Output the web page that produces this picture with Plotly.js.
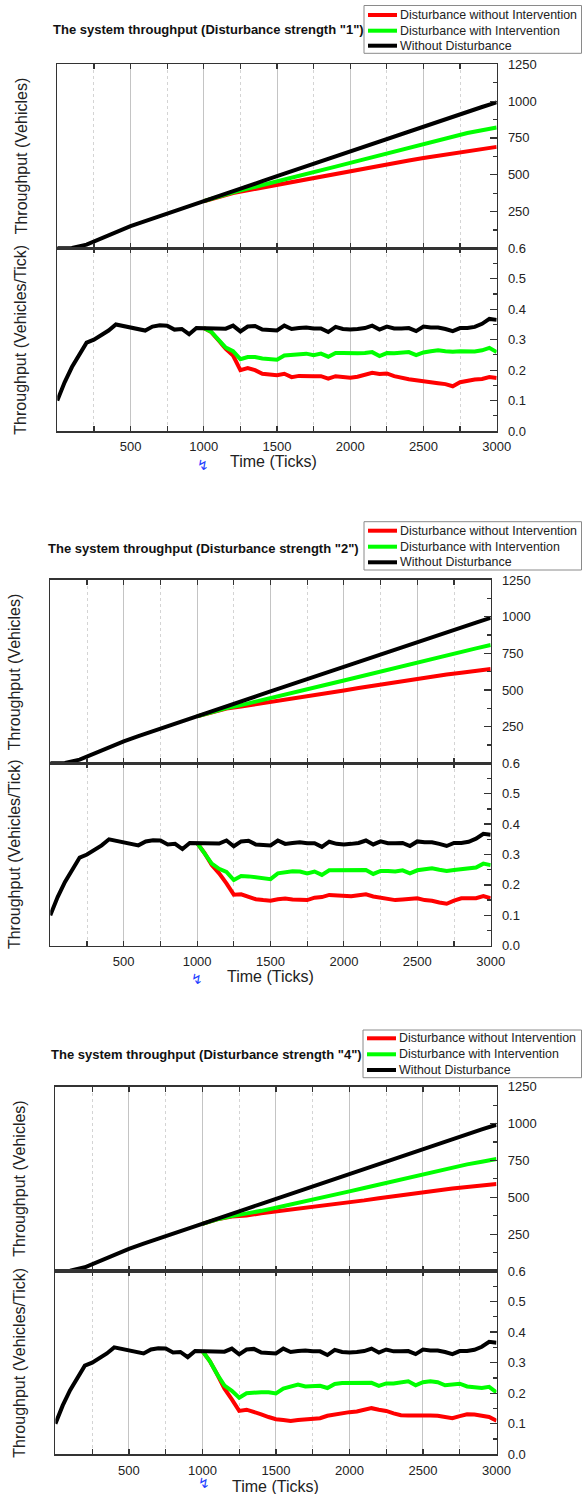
<!DOCTYPE html>
<html><head><meta charset="utf-8">
<script src="https://cdn.plot.ly/plotly-3.0.1.min.js"></script>
<style>html,body{margin:0;padding:0;background:#fff;} #chart{width:582px;height:1494px;}</style>
</head><body><div id="chart"></div>
<script>
// ---------- DATA ----------
const seriesNames = ['Disturbance without Intervention', 'Disturbance with Intervention', 'Without Disturbance'];
const strengths = ['1', '2', '4'];

// cumulative throughput (Vehicles), sampled every 100 ticks
const xCum = [0,100,200,300,400,500,600,700,800,900,1000,1100,1200,1300,1400,1500,1600,1700,1800,1900,2000,2100,2200,2300,2400,2500,2600,2700,2800,2900,3000];
const xCumD = [1000,1100,1200,1300,1400,1500,1600,1700,1800,1900,2000,2100,2200,2300,2400,2500,2600,2700,2800,2900,3000];
const blackCum = [0,2,25,68,112,150,185,218,252,286,320,354,388,422,456,490,524,558,592,626,660,694,728,762,796,830,864,898,930,960,992];
const green1Cum = [320,352,380,405,429,453,478,504,529,555,580,606,631,657,683,709,735,761,783,802,821];
const red1Cum   = [320,351,376,394,413,432,450,468,486,504,522,541,560,578,596,613,629,645,660,673,689];
const green2Cum = [320,351,376,397,420,443,467,491,516,541,565,590,614,639,664,689,714,739,762,784,807];
const red2Cum   = [320,350,373,387,402,417,433,448,464,481,497,514,530,546,561,577,592,606,618,630,643];
const green3Cum = [320,350,372,387,408,429,450,472,494,517,540,563,586,610,633,656,679,702,723,741,760];
const red3Cum   = [320,350,370,377,391,403,414,426,438,451,465,479,494,508,521,534,547,559,570,579,590];

// throughput rate (Vehicles/Tick), sampled every 50 ticks
const xRate = [0,50,100,150,200,250,300,350,400,450,500,550,600,650,700,750,800,850,900,950,1000,1050,1100,1150,1200,1250,1300,1350,1400,1450,1500,1550,1600,1650,1700,1750,1800,1850,1900,1950,2000,2050,2100,2150,2200,2250,2300,2350,2400,2450,2500,2550,2600,2650,2700,2750,2800,2850,2900,2950,3000];
const xRateD = [1000,1050,1100,1150,1200,1250,1300,1350,1400,1450,1500,1550,1600,1650,1700,1750,1800,1850,1900,1950,2000,2050,2100,2150,2200,2250,2300,2350,2400,2450,2500,2550,2600,2650,2700,2750,2800,2850,2900,2950,3000];
const blackRate = [0.10,0.16,0.21,0.25,0.29,0.30,0.315,0.33,0.35,0.345,0.338,0.333,0.33,0.343,0.347,0.346,0.333,0.335,0.318,0.338,0.338,0.338,0.338,0.336,0.346,0.327,0.343,0.345,0.333,0.333,0.330,0.346,0.335,0.338,0.340,0.337,0.337,0.325,0.342,0.335,0.333,0.335,0.338,0.346,0.333,0.343,0.337,0.337,0.338,0.328,0.343,0.340,0.340,0.335,0.328,0.338,0.338,0.342,0.352,0.368,0.365];
const green1Rate = [0.338,0.326,0.300,0.274,0.262,0.236,0.243,0.243,0.238,0.236,0.234,0.248,0.250,0.254,0.254,0.249,0.254,0.244,0.256,0.256,0.254,0.255,0.256,0.259,0.246,0.256,0.255,0.257,0.259,0.249,0.258,0.262,0.265,0.262,0.260,0.262,0.262,0.261,0.265,0.273,0.259];
const red1Rate = [0.338,0.325,0.298,0.270,0.248,0.200,0.207,0.200,0.188,0.184,0.183,0.188,0.177,0.181,0.182,0.180,0.180,0.172,0.180,0.178,0.175,0.178,0.185,0.191,0.187,0.189,0.180,0.174,0.170,0.167,0.163,0.158,0.157,0.154,0.147,0.160,0.166,0.169,0.171,0.177,0.174];
const green2Rate = [0.338,0.305,0.270,0.253,0.243,0.216,0.229,0.228,0.225,0.225,0.219,0.238,0.242,0.245,0.244,0.238,0.244,0.233,0.248,0.248,0.247,0.246,0.246,0.249,0.236,0.246,0.246,0.244,0.248,0.238,0.248,0.253,0.255,0.250,0.246,0.249,0.252,0.255,0.257,0.270,0.265];
const red2Rate = [0.338,0.305,0.265,0.238,0.205,0.168,0.169,0.162,0.153,0.150,0.148,0.153,0.155,0.152,0.152,0.150,0.158,0.160,0.167,0.165,0.162,0.163,0.166,0.169,0.162,0.158,0.152,0.150,0.152,0.153,0.156,0.150,0.148,0.142,0.138,0.148,0.156,0.156,0.156,0.163,0.156];
const green3Rate = [0.338,0.305,0.262,0.225,0.208,0.185,0.200,0.203,0.203,0.203,0.199,0.215,0.222,0.228,0.222,0.222,0.224,0.217,0.230,0.233,0.233,0.233,0.233,0.234,0.224,0.232,0.232,0.235,0.239,0.226,0.236,0.239,0.236,0.226,0.227,0.231,0.222,0.219,0.217,0.221,0.203];
const red3Rate = [0.338,0.305,0.262,0.215,0.180,0.142,0.146,0.140,0.131,0.122,0.115,0.112,0.109,0.112,0.113,0.116,0.118,0.126,0.130,0.137,0.138,0.140,0.145,0.151,0.146,0.142,0.134,0.128,0.127,0.128,0.128,0.127,0.126,0.122,0.118,0.125,0.131,0.130,0.126,0.122,0.110];

// axis tick values
const xMajor = [500,1000,1500,2000,2500,3000];
const xMinor = [250,750,1250,1750,2250,2750];
const yCumMajor = [0,250,500,750,1000,1250];
const yCumLabels = ['','250','500','750','1000','1250'];
const yCumMinor = [125,375,625,875,1125];
const yRateMajor = [0,0.1,0.2,0.3,0.4,0.5,0.6];
const yRateLabels = ['0.0','0.1','0.2','0.3','0.4','0.5','0.6'];
const yRateMinor = [0.05,0.15,0.25,0.35,0.45,0.55];

// ---------- LAYOUT ----------
const W = 582, H = 1494;
const px = v => v / W, py = v => 1 - v / H;
const FONT = 'Arial, "Liberation Sans", sans-serif';
const colors = ['#ff0000', '#00ff00', '#000000'];

const panels = [
  {xl:57.3, xr:496.7, top:64.3, mid:248.3, bot:431, titleX:50.6, titleY:29.3, ytX:21, xtX:273, xtY:461.7, arX:203, arY:465,
   leg:{x0:364, y0:5.5, y1:53.3, rows:[15, 30.7, 45.7]},
   cum:[red1Cum, green1Cum], rate:[red1Rate, green1Rate]},
  {xl:50.3, xr:490.7, top:580, mid:763.3, bot:945.7, titleX:46.1, titleY:548, ytX:14.6, xtX:270.7, xtY:976.7, arX:197, arY:979,
   leg:{x0:364, y0:521.7, y1:570, rows:[530.7, 546.7, 562.3]},
   cum:[red2Cum, green2Cum], rate:[red2Rate, green2Rate]},
  {xl:55.4, xr:496.5, top:1086.7, mid:1271, bot:1454.3, titleX:49.1, titleY:1054.3, ytX:20, xtX:275.7, xtY:1486.7, arX:204, arY:1483,
   leg:{x0:363, y0:1030, y1:1077.7, rows:[1038.3, 1054.3, 1070]},
   cum:[red3Cum, green3Cum], rate:[red3Rate, green3Rate]}
];

const layout = {
  width: W, height: H,
  margin: {l:0, r:0, t:0, b:0},
  paper_bgcolor: '#fff', plot_bgcolor: '#fff',
  font: {family: FONT, color: '#222', size: 13},
  annotations: [], shapes: [], showlegend: false
};
const traces = [];

function xAxis(p, anchor, labels) {
  return {
    domain: [px(p.xl), px(p.xr)], anchor: anchor, range: [0, 3000],
    showline: true, linecolor: '#333', linewidth: 1.6, mirror: 'allticks',
    ticks: 'inside', ticklen: 5, tickwidth: 1.2, tickcolor: '#333',
    tickmode: 'array', tickvals: xMajor, showticklabels: labels,
    tickfont: {size: 13, family: FONT, color: '#222'}, ticklabelstandoff: 3,
    showgrid: true, gridcolor: '#c4c4c4', gridwidth: 1, zeroline: false,
    minor: {tickmode: 'array', tickvals: xMinor, ticks: 'inside', ticklen: 5, tickwidth: 1.2, tickcolor: '#333',
            showgrid: true, gridcolor: '#d4d4d4', griddash: 'dot', gridwidth: 1},
    fixedrange: true
  };
}
// bottomPx / topPx are pixel rows measured from the top of the page
function yAxis(p, anchor, bottomPx, topPx, range, vals, labels, minor) {
  return {
    domain: [py(bottomPx), py(topPx)], anchor: anchor, side: 'right', range: range,
    showline: true, linecolor: '#333', linewidth: 1.6, mirror: true,
    ticks: 'inside', ticklen: 7, tickwidth: 1.2, tickcolor: '#333',
    tickmode: 'array', tickvals: vals, ticktext: labels,
    tickfont: {size: 13, family: FONT, color: '#222'}, ticklabelstandoff: 7,
    minor: {tickmode: 'array', tickvals: minor, ticks: 'inside', ticklen: 4, tickwidth: 1.2, tickcolor: '#333', showgrid: false},
    showgrid: false, zeroline: false, fixedrange: true
  };
}
function yLeft(overlay, anchor, range, vals, minor) {
  return {
    overlaying: overlay, anchor: anchor, side: 'left', range: range,
    showline: false, ticks: 'outside', ticklen: 5, tickwidth: 1.2, tickcolor: '#333',
    tickmode: 'array', tickvals: vals, showticklabels: false,
    minor: {tickmode: 'array', tickvals: minor, ticks: 'outside', ticklen: 4, tickwidth: 1.2, tickcolor: '#333', showgrid: false},
    showgrid: false, zeroline: false, fixedrange: true
  };
}

panels.forEach((p, i) => {
  const ui = 2 * i + 1, li = 2 * i + 2;
  const xu = 'x' + (ui === 1 ? '' : ui), yu = 'y' + (ui === 1 ? '' : ui);
  const xlw = 'x' + li, ylw = 'y' + li;
  const kx = k => 'xaxis' + (k === 1 ? '' : k), ky = k => 'yaxis' + (k === 1 ? '' : k);

  layout[kx(ui)] = xAxis(p, yu, false);
  layout[kx(li)] = xAxis(p, ylw, true);
  layout[ky(ui)] = yAxis(p, xu, p.mid, p.top, [0, 1250], yCumMajor, yCumLabels, yCumMinor);
  layout[ky(li)] = yAxis(p, xlw, p.bot, p.mid, [0, 0.6], yRateMajor, yRateLabels, yRateMinor);
  layout[ky(7 + 2 * i)] = yLeft(yu, xu, [0, 1250], yCumMajor, yCumMinor);
  layout[ky(8 + 2 * i)] = yLeft(ylw, xlw, [0, 0.6], yRateMajor, yRateMinor);

  // upper: cumulative
  [0, 1].forEach(s => traces.push({
    type: 'scatter', mode: 'lines', x: xCumD, y: p.cum[s], name: seriesNames[s],
    xaxis: xu, yaxis: yu, line: {color: colors[s], width: 4}, hoverinfo: 'skip'
  }));
  traces.push({type: 'scatter', mode: 'lines', x: xCum, y: blackCum, name: seriesNames[2],
    xaxis: xu, yaxis: yu, line: {color: colors[2], width: 4}, hoverinfo: 'skip'});
  // lower: rate
  [0, 1].forEach(s => traces.push({
    type: 'scatter', mode: 'lines', x: xRateD, y: p.rate[s], name: seriesNames[s],
    xaxis: xlw, yaxis: ylw, line: {color: colors[s], width: 4}, hoverinfo: 'skip'
  }));
  traces.push({type: 'scatter', mode: 'lines', x: xRate, y: blackRate, name: seriesNames[2],
    xaxis: xlw, yaxis: ylw, line: {color: colors[2], width: 4}, hoverinfo: 'skip'});

  // legend box (compact, as in the reference)
  const S = layout.shapes;
  S.push({type: 'rect', xref: 'paper', yref: 'paper', x0: px(p.leg.x0), x1: px(581.5), y0: py(p.leg.y1), y1: py(p.leg.y0),
    line: {color: '#8a8a8a', width: 1}, fillcolor: '#fff', layer: 'above'});
  const A = layout.annotations;
  p.leg.rows.forEach((ry, s) => {
    S.push({type: 'line', xref: 'paper', yref: 'paper', x0: px(p.leg.x0 + 4), x1: px(p.leg.x0 + 33), y0: py(ry), y1: py(ry),
      line: {color: colors[s], width: 4}, layer: 'above'});
    A.push({text: seriesNames[s], x: px(p.leg.x0 + 34), y: py(ry), xref: 'paper', yref: 'paper',
      xanchor: 'left', yanchor: 'middle', showarrow: false, font: {size: 12.4, family: FONT, color: '#222'}});
  });

  A.push({text: '<b>The system throughput (Disturbance strength "' + strengths[i] + '")</b>',
    x: px(p.titleX), y: py(p.titleY), xref: 'paper', yref: 'paper', xanchor: 'left', yanchor: 'middle',
    showarrow: false, font: {size: 13, family: FONT, color: '#111'}});
  A.push({text: 'Throughput (Vehicles)', textangle: -90,
    x: px(p.ytX), y: py((p.top + p.mid) / 2), xref: 'paper', yref: 'paper', xanchor: 'center', yanchor: 'middle',
    showarrow: false, font: {size: 16, family: FONT, color: '#222'}});
  A.push({text: 'Throughput (Vehicles/Tick)', textangle: -90,
    x: px(p.ytX), y: py((p.mid + p.bot) / 2), xref: 'paper', yref: 'paper', xanchor: 'center', yanchor: 'middle',
    showarrow: false, font: {size: 16, family: FONT, color: '#222'}});
  A.push({text: 'Time (Ticks)',
    x: px(p.xtX), y: py(p.xtY), xref: 'paper', yref: 'paper', xanchor: 'center', yanchor: 'middle',
    showarrow: false, font: {size: 16, family: FONT, color: '#222'}});
  A.push({text: '↯',
    x: px(p.arX), y: py(p.arY), xref: 'paper', yref: 'paper', xanchor: 'center', yanchor: 'middle',
    showarrow: false, font: {size: 14, family: '"DejaVu Sans", sans-serif', color: '#1f3fff'}});
});

Plotly.newPlot('chart', traces, layout, {staticPlot: true, displayModeBar: false});
</script>
</body></html>
